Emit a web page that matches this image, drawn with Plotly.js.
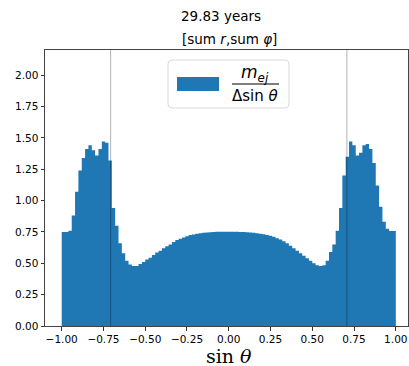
<!DOCTYPE html>
<html>
<head>
<meta charset="utf-8">
<script src="https://cdn.plot.ly/plotly-3.0.1.min.js"></script>
<style>html,body{margin:0;padding:0;overflow:hidden;background:#fff}</style>
</head>
<body>
<div id="chart" style="width:409px;height:366px"></div>
<script>
// histogram of m_ej / Δ sin θ, 100 bins over [-1, 1]
const binLow = -1;
const binWidth = 0.02;
const massPerSin = [
  0.750, 0.750, 0.760, 0.880, 1.070, 1.240, 1.340, 1.410, 1.440, 1.400,
  1.360, 1.410, 1.470, 1.460, 1.320, 0.940, 0.800, 0.660, 0.580, 0.520,
  0.490, 0.478, 0.478, 0.495, 0.510, 0.530, 0.545, 0.565, 0.585, 0.600,
  0.620, 0.635, 0.650, 0.670, 0.685, 0.695, 0.705, 0.715, 0.725, 0.730,
  0.735, 0.740, 0.743, 0.746, 0.748, 0.750, 0.751, 0.752, 0.752, 0.752,
  0.752, 0.752, 0.751, 0.750, 0.749, 0.747, 0.745, 0.743, 0.740, 0.736,
  0.731, 0.726, 0.720, 0.712, 0.700, 0.690, 0.675, 0.660, 0.640, 0.620,
  0.600, 0.580, 0.560, 0.540, 0.520, 0.500, 0.485, 0.478, 0.485, 0.520,
  0.590, 0.650, 0.760, 0.940, 1.200, 1.350, 1.470, 1.440, 1.360, 1.380,
  1.440, 1.450, 1.410, 1.300, 1.120, 0.950, 0.830, 0.775, 0.757, 0.757
];
const guideLines = [-0.7071, 0.7071];
const xTicks = [-1.0, -0.75, -0.5, -0.25, 0, 0.25, 0.5, 0.75, 1.0];
const xTickText = ['\u22121.00', '\u22120.75', '\u22120.50', '\u22120.25', '0.00', '0.25', '0.50', '0.75', '1.00'];
const yTicks = [0, 0.25, 0.5, 0.75, 1.0, 1.25, 1.5, 1.75, 2.0];
const yTickText = ['0.00', '0.25', '0.50', '0.75', '1.00', '1.25', '1.50', '1.75', '2.00'];
const titleText = '29.83 years';
const subtitleText = '[sum <i>r</i>,sum <i>\u03c6</i>]';

// step outline built from bin edges: each bin's left edge + final right edge
const nBins = massPerSin.length;
const stepX = [binLow].concat(massPerSin.map((_, i) => binLow + binWidth * i), [binLow + binWidth * nBins, binLow + binWidth * nBins]);
const stepY = [0].concat(massPerSin, [massPerSin[nBins - 1], 0]);
const blue = '#1f77b4';
const font = 'DejaVu Sans, sans-serif';

const traces = [{
  type: 'scatter', mode: 'lines',
  x: stepX, y: stepY,
  line: {shape: 'hv', color: blue, width: 0},
  fill: 'toself', fillcolor: blue,
  hoverinfo: 'skip', showlegend: false
}];

const shapes = guideLines.map(v => ({
  type: 'line', xref: 'x', yref: 'paper', x0: v, x1: v, y0: 0, y1: 1,
  line: {color: 'rgba(0,0,0,0.3)', width: 1}, layer: 'above'
}));
// legend frame with rounded corners (pixel layout -> paper coords)
const plotL = 45, plotT = 50, plotW = 363, plotH = 276;
const px = v => (v - plotL) / plotW;
const py = v => 1 - (v - plotT) / plotH;
function roundRect(x0, y0, x1, y1, r) {
  const P = (x, y) => px(x) + ',' + py(y);
  return 'M' + P(x0 + r, y0) + ' L' + P(x1 - r, y0) + ' Q' + P(x1, y0) + ' ' + P(x1, y0 + r) +
    ' L' + P(x1, y1 - r) + ' Q' + P(x1, y1) + ' ' + P(x1 - r, y1) +
    ' L' + P(x0 + r, y1) + ' Q' + P(x0, y1) + ' ' + P(x0, y1 - r) +
    ' L' + P(x0, y0 + r) + ' Q' + P(x0, y0) + ' ' + P(x0 + r, y0) + ' Z';
}
shapes.push({type: 'path', xref: 'paper', yref: 'paper', path: roundRect(168, 60, 289, 108, 4),
  line: {color: '#d9d9d9', width: 1}, fillcolor: 'rgba(255,255,255,0.85)', layer: 'above'});
shapes.push({type: 'rect', xref: 'paper', yref: 'paper', x0: px(177), x1: px(219), y0: py(91), y1: py(77),
  line: {width: 0}, fillcolor: blue, layer: 'above'});
shapes.push({type: 'line', xref: 'paper', yref: 'paper', x0: px(232), x1: px(279), y0: py(84), y1: py(84),
  line: {color: '#000', width: 1}, layer: 'above'});

const annotations = [
  {text: titleText, xref: 'paper', yref: 'paper', x: px(221), y: py(16),
   showarrow: false, xanchor: 'center', yanchor: 'middle', font: {family: font, size: 13.5, color: '#000'}},
  {text: subtitleText, xref: 'paper', yref: 'paper', x: px(229), y: py(39),
   showarrow: false, xanchor: 'center', yanchor: 'middle', font: {family: font, size: 13.5, color: '#000'}},
  {text: '<i>m</i><sub><i>ej</i></sub>', xref: 'paper', yref: 'paper', x: px(255), y: py(73.5),
   showarrow: false, xanchor: 'center', yanchor: 'middle', font: {family: font, size: 17, color: '#000'}},
  {text: '\u0394sin <i>\u03b8</i>', xref: 'paper', yref: 'paper', x: px(255), y: py(96),
   showarrow: false, xanchor: 'center', yanchor: 'middle', font: {family: font, size: 15, color: '#000'}},
  {text: 'sin <i>\u03b8</i>', xref: 'paper', yref: 'paper', x: px(229), y: py(356),
   showarrow: false, xanchor: 'center', yanchor: 'middle', font: {family: 'DejaVu Serif, serif', size: 19, color: '#000'}}
];

const layout = {
  width: 409, height: 366,
  margin: {l: 45, r: 1, t: 50, b: 40, pad: 0},
  paper_bgcolor: '#fff', plot_bgcolor: '#fff',
  font: {family: font, size: 10, color: '#000'},
  xaxis: {
    range: [-1.1, 1.073], tickvals: xTicks, ticktext: xTickText,
    ticks: 'outside', ticklen: 3.5, tickcolor: '#333', showgrid: false, zeroline: false,
    showline: true, linecolor: '#444', linewidth: 1, mirror: true,
    tickfont: {family: font, size: 10.5, color: '#000'}
  },
  yaxis: {
    range: [0, 2.2], tickvals: yTicks, ticktext: yTickText,
    ticks: 'outside', ticklen: 3.5, tickcolor: '#333', showgrid: false, zeroline: false,
    showline: true, linecolor: '#444', linewidth: 1, mirror: true,
    tickfont: {family: font, size: 10.5, color: '#000'}
  },
  shapes: shapes,
  annotations: annotations,
  showlegend: false
};

Plotly.newPlot('chart', traces, layout, {staticPlot: true, displayModeBar: false});
</script>
</body>
</html>
